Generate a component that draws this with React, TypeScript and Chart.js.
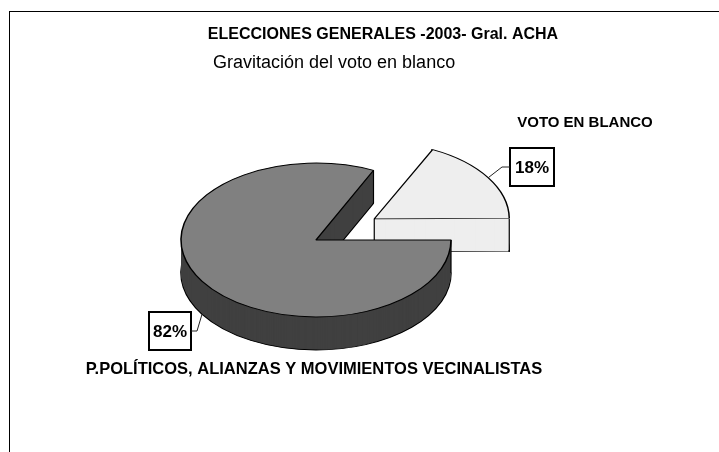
import React, { useEffect, useRef } from 'react';
import { Chart, registerables } from 'chart.js';

Chart.register(...registerables);

// ---- data ----
const TITLE = 'ELECCIONES GENERALES -2003- Gral. ACHA';
const SUBTITLE = 'Gravitación del voto en blanco';
const categories = ['P.POLÍTICOS, ALIANZAS Y MOVIMIENTOS VECINALISTAS', 'VOTO EN BLANCO'];
const values = [82, 18];
const explodeOffsets = [0, 276];

// ---- style ----
const TOP_COLORS = ['#808080', '#EEEEEE'];
const SIDE_COLORS = ['#404040', '#EEEEEE'];
const EDGE = '#000000';
const TILT = 0.57;
const DEPTH = 33;
const RADIUS = 135;
const FONT = '"Liberation Sans", Arial, Helvetica, sans-serif';

const LABELS = [
  { catX: 314, catY: 369, catSize: 16.5, box: { x: 149, y: 312, w: 42, h: 38 }, side: 'right', edgeDepth: DEPTH },
  { catX: 585, catY: 123, catSize: 15, box: { x: 510, y: 148, w: 44, h: 38 }, side: 'left', edgeDepth: 0 },
];

function apexOf(arc: any) {
  const off = (arc.options.offset || 0) / 4;
  const mid = (arc.startAngle + arc.endAngle) / 2;
  return { x: arc.x + Math.cos(mid) * off, y: arc.y + Math.sin(mid) * off, mid };
}

function realRadius(arc: any) {
  const off = (arc.options.offset || 0) / 4;
  const fix = 1 - Math.sin(Math.min(Math.PI, arc.circumference || 0));
  return arc.outerRadius + off * fix;
}

let saved = false;
const pie3d = {
  id: 'pie3d',
  afterDatasetsUpdate(chart: any) {
    const meta = chart.getDatasetMeta(0);
    meta.data.forEach((arc: any) => {
      const off = (arc.options.offset || 0) / 4;
      const fix = 1 - Math.sin(Math.min(Math.PI, arc.circumference || 0));
      arc.outerRadius = RADIUS - off * fix;
    });
  },
  beforeDatasetsDraw(chart: any) {
    const ctx = chart.ctx;
    const arcs = chart.getDatasetMeta(0).data;
    saved = false;
    if (!arcs.length) return;
    const cx = arcs[0].x;
    const cy = arcs[0].y;
    ctx.save();
    saved = true;
    ctx.translate(cx, cy);
    ctx.scale(1, TILT);
    ctx.translate(-cx, -cy);
    const order = arcs.map((_: any, i: number) => i).sort((a: number, b: number) => apexOf(arcs[a]).y - apexOf(arcs[b]).y);
    for (const i of order) {
      const arc = arcs[i];
      const opts = arc.options;
      for (let d = DEPTH; d >= 1; d--) {
        arc.options = { ...opts, backgroundColor: SIDE_COLORS[i], borderColor: EDGE, borderWidth: d === DEPTH ? opts.borderWidth : 0 };
        ctx.save();
        ctx.translate(0, d / TILT);
        arc.draw(ctx);
        ctx.restore();
      }
      arc.options = opts;
      const ap = apexOf(arc);
      const R = realRadius(arc);
      const pts = [
        { x: ap.x, y: ap.y },
        { x: ap.x + Math.cos(arc.startAngle) * R, y: ap.y + Math.sin(arc.startAngle) * R },
        { x: ap.x + Math.cos(arc.endAngle) * R, y: ap.y + Math.sin(arc.endAngle) * R },
      ];
      ctx.beginPath();
      pts.forEach((p) => {
        ctx.moveTo(p.x, p.y);
        ctx.lineTo(p.x, p.y + DEPTH / TILT);
      });
      ctx.lineWidth = 1.2;
      ctx.strokeStyle = EDGE;
      ctx.stroke();
    }
  },
  afterDatasetsDraw(chart: any) {
    if (saved) chart.ctx.restore();
    saved = false;
  },
};

const labelsPlugin = {
  id: 'labels3d',
  afterDraw(chart: any) {
    const ctx = chart.ctx;
    const arcs = chart.getDatasetMeta(0).data;
    const total = values.reduce((a, b) => a + b, 0);
    ctx.save();
    ctx.fillStyle = '#000';
    ctx.textBaseline = 'middle';
    ctx.textAlign = 'center';
    ctx.font = `bold 16px ${FONT}`;
    ctx.fillText(TITLE, 383, 35);
    ctx.textAlign = 'left';
    ctx.font = `18px ${FONT}`;
    ctx.fillText(SUBTITLE, 213, 63);

    const cy = arcs.length ? arcs[0].y : 0;
    LABELS.forEach((L, i) => {
      ctx.textAlign = 'center';
      ctx.font = `bold ${L.catSize}px ${FONT}`;
      ctx.fillStyle = '#000';
      ctx.fillText(categories[i], L.catX, L.catY);

      const b = L.box;
      ctx.fillStyle = '#fff';
      ctx.fillRect(b.x, b.y, b.w, b.h);
      ctx.lineWidth = 2;
      ctx.strokeStyle = '#000';
      ctx.strokeRect(b.x, b.y, b.w, b.h);
      ctx.fillStyle = '#000';
      ctx.font = `bold 17px ${FONT}`;
      ctx.fillText(`${Math.round((values[i] / total) * 100)}%`, b.x + b.w / 2, b.y + b.h / 2 + 1);

      const arc = arcs[i];
      if (!arc) return;
      const ap = apexOf(arc);
      const R = realRadius(arc);
      const px = ap.x + Math.cos(ap.mid) * R;
      const py = cy + (ap.y + Math.sin(ap.mid) * R - cy) * TILT + L.edgeDepth;
      const sx = L.side === 'right' ? b.x + b.w : b.x;
      const sy = b.y + b.h / 2;
      const ex = L.side === 'right' ? sx + 6 : sx - 8;
      ctx.beginPath();
      ctx.moveTo(sx, sy);
      ctx.lineTo(ex, sy);
      ctx.lineTo(px, py);
      ctx.lineWidth = 1;
      ctx.strokeStyle = '#222';
      ctx.stroke();
    });
    ctx.restore();
  },
};

export default function App() {
  const ref = useRef<HTMLCanvasElement>(null);
  useEffect(() => {
    const chart = new Chart(ref.current as HTMLCanvasElement, {
      type: 'pie',
      data: {
        labels: categories,
        datasets: [
          {
            data: values,
            backgroundColor: TOP_COLORS,
            borderColor: EDGE,
            borderWidth: 1.5,
            offset: explodeOffsets,
            clip: false,
          } as any,
        ],
      },
      options: {
        responsive: false,
        animation: false,
        devicePixelRatio: 1,
        events: [],
        rotation: 90,
        radius: RADIUS,
        layout: { padding: { left: 0, right: 87, top: 28, bottom: 0 } },
        plugins: {
          legend: { display: false },
          tooltip: { enabled: false },
          title: { display: false },
        },
      } as any,
      plugins: [pie3d, labelsPlugin],
    });
    return () => chart.destroy();
  }, []);
  return (
    <div style={{ position: 'absolute', left: 0, top: 0, width: 719, height: 452, background: '#fff', overflow: 'hidden' }}>
      <canvas ref={ref} width={719} height={452} style={{ position: 'absolute', left: 0, top: 0 }} />
      <div
        style={{
          position: 'absolute',
          left: 9,
          top: 11,
          width: 710,
          height: 441,
          borderTop: '1px solid #000',
          borderLeft: '1px solid #000',
          boxSizing: 'border-box',
          pointerEvents: 'none',
        }}
      />
    </div>
  );
}
